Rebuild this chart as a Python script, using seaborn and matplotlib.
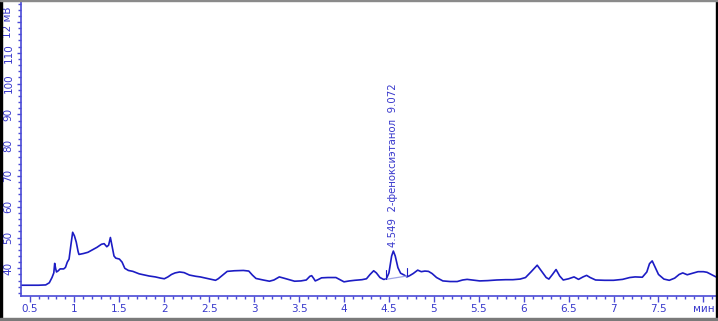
import matplotlib
matplotlib.use("Agg")
import matplotlib.pyplot as plt
import seaborn as sns
import numpy as np
import pandas as pd
from matplotlib.ticker import MultipleLocator, FixedLocator, FixedFormatter
from matplotlib.patches import Rectangle

# --- data (time in min, signal in mV) ---
time_min = [0.41, 0.50, 0.60, 0.68, 0.72, 0.75, 0.77, 0.78, 0.79, 0.80, 0.82, 0.84, 0.88, 0.90,
            0.92, 0.94, 0.96, 0.98, 1.00, 1.02, 1.04, 1.05, 1.10, 1.15, 1.20, 1.25, 1.30, 1.33,
            1.36, 1.38, 1.40, 1.42, 1.44, 1.46, 1.50, 1.53, 1.56, 1.60, 1.65, 1.72, 1.78, 1.83,
            1.90, 1.96, 2.00, 2.04, 2.08, 2.12, 2.17, 2.22, 2.28, 2.35, 2.40, 2.46, 2.52, 2.57,
            2.60, 2.65, 2.70, 2.78, 2.88, 2.94, 2.98, 3.02, 3.10, 3.17, 3.22, 3.28, 3.33, 3.40,
            3.45, 3.52, 3.58, 3.62, 3.64, 3.66, 3.68, 3.71, 3.75, 3.82, 3.91, 3.96, 4.00, 4.06,
            4.12, 4.20, 4.25, 4.29, 4.33, 4.36, 4.40, 4.44, 4.47, 4.50, 4.53, 4.549, 4.57, 4.60,
            4.63, 4.67, 4.70, 4.73, 4.77, 4.82, 4.86, 4.90, 4.94, 4.98, 5.03, 5.10, 5.18, 5.26,
            5.32, 5.37, 5.43, 5.51, 5.60, 5.70, 5.80, 5.88, 5.96, 6.02, 6.08, 6.15, 6.20, 6.25,
            6.28, 6.32, 6.36, 6.40, 6.44, 6.50, 6.56, 6.61, 6.66, 6.70, 6.74, 6.80, 6.90, 7.00,
            7.10, 7.18, 7.24, 7.32, 7.37, 7.40, 7.43, 7.46, 7.50, 7.56, 7.62, 7.68, 7.73, 7.77,
            7.82, 7.88, 7.94, 8.00, 8.04, 8.10, 8.14]
signal_mv = [34.5, 34.5, 34.5, 34.6, 35.3, 37.0, 38.5, 41.6, 40.0, 38.8, 39.2, 39.8, 39.8, 40.3,
             42.0, 43.0, 47.5, 51.7, 50.5, 48.5, 45.5, 44.5, 44.8, 45.2, 46.0, 46.8, 47.8, 48.0,
             47.0, 47.5, 50.0, 47.0, 44.0, 43.3, 43.0, 42.0, 40.0, 39.3, 39.0, 38.2, 37.8, 37.5,
             37.2, 36.8, 36.6, 37.2, 38.0, 38.5, 38.8, 38.6, 37.8, 37.4, 37.2, 36.8, 36.4, 36.1,
             36.6, 37.8, 39.0, 39.2, 39.3, 39.1, 37.8, 36.7, 36.2, 35.8, 36.2, 37.2, 36.8, 36.2,
             35.8, 35.9, 36.2, 37.4, 37.6, 36.8, 35.9, 36.3, 36.9, 37.0, 37.0, 36.2, 35.6, 35.9,
             36.1, 36.3, 36.6, 38.0, 39.2, 38.5, 37.0, 36.4, 36.5, 38.5, 44.0, 45.6, 44.0, 40.2,
             38.4, 37.8, 37.2, 37.6, 38.3, 39.4, 38.9, 39.1, 39.0, 38.3, 37.0, 35.9, 35.7, 35.7,
             36.2, 36.4, 36.2, 35.9, 36.0, 36.2, 36.3, 36.3, 36.5, 37.0, 38.8, 41.0, 39.0, 37.0,
             36.5, 38.0, 39.6, 37.5, 36.2, 36.6, 37.2, 36.4, 37.2, 37.7, 37.0, 36.2, 36.1, 36.1,
             36.4, 37.0, 37.2, 37.1, 38.8, 41.5, 42.4, 40.5, 38.0, 36.5, 36.1, 36.8, 38.0, 38.5,
             37.9, 38.4, 38.9, 38.9, 38.7, 37.8, 37.2]

# integration baseline and markers for the labelled peak
peak_base_t = [4.465, 4.70]
peak_base_v = [36.4, 37.5]
peak_marker_top = [39.6, 40.2]
peak_rt = 4.549
peak_height = 45.6
peak_label = "4.549  2-феноксиэтанол  9.072"

x_ticks = [0.5, 1, 1.5, 2, 2.5, 3, 3.5, 4, 4.5, 5, 5.5, 6, 6.5, 7, 7.5, 8]
x_tick_labels = ["0.5", "1", "1.5", "2", "2.5", "3", "3.5", "4", "4.5", "5", "5.5", "6",
                 "6.5", "7", "7.5", "мин"]
y_ticks = [40, 50, 60, 70, 80, 90, 100, 110, 120]
y_tick_labels = ["40", "50", "60", "70", "80", "90", "100", "110", "12 мВ"]

LINE = "#1c1cc4"
TXT = "#3838cc"
AX = "#4a4ad6"

sns.set_theme(style="white")
plt.rcParams['font.family'] = ['DejaVu Sans']

W, H = 718, 321
fig = plt.figure(figsize=(W / 100, H / 100), dpi=100)
ax = fig.add_axes([21 / W, (H - 296) / H, (716 - 21) / W, (296 - 2) / H])

df = pd.DataFrame({"t": time_min, "mv": signal_mv})
sns.lineplot(data=df, x="t", y="mv", ax=ax, color=LINE, linewidth=1.2, sort=False,
             estimator=None)

# integration baseline + markers
ax.plot(peak_base_t, peak_base_v, color="#9ea4e6", linewidth=0.9)
for t0, v0, v1 in zip(peak_base_t, peak_base_v, peak_marker_top):
    ax.plot([t0, t0], [v0, v1], color=LINE, linewidth=0.8)

ax.text(peak_rt, peak_height + 1.3, peak_label, rotation=90, ha="center", va="bottom",
        fontsize=7.3, color=TXT)

ax.set_xlim(0.405, 8.14)
ax.set_ylim(31.0, 126.5)
ax.set_xlabel("")
ax.set_ylabel("")

ax.xaxis.set_major_locator(FixedLocator(x_ticks))
ax.xaxis.set_major_formatter(FixedFormatter(x_tick_labels))
ax.xaxis.set_minor_locator(MultipleLocator(0.1))
ax.yaxis.set_major_locator(FixedLocator(y_ticks))
ax.yaxis.set_major_formatter(FixedFormatter(y_tick_labels))
ax.yaxis.set_minor_locator(MultipleLocator(2))

ax.tick_params(axis="x", which="major", direction="out", length=4, width=1, color=AX,
               labelcolor=TXT, labelsize=7.5, pad=2, bottom=True)
ax.tick_params(axis="x", which="minor", direction="out", length=2.5, width=1, color=AX,
               bottom=True)
ax.tick_params(axis="y", which="major", direction="out", length=3, width=1, color=AX,
               labelcolor=TXT, labelsize=7.5, pad=2.5, left=True)
ax.tick_params(axis="y", which="minor", direction="out", length=2.5, width=1, color=AX,
               left=True)
for lab in ax.get_yticklabels():
    lab.set_rotation(90)
    lab.set_va("center")

for side in ["top", "right"]:
    ax.spines[side].set_visible(False)
for side in ["left", "bottom"]:
    ax.spines[side].set_color(AX)
    ax.spines[side].set_linewidth(1.2)

# frame of the window
fig.patches.append(Rectangle((0, 0), 2 / W, 1, transform=fig.transFigure, color="black"))
fig.patches.append(Rectangle((1 - 2 / W, 0), 2 / W, 1, transform=fig.transFigure, color="black"))
fig.patches.append(Rectangle((0, 0), 1, 3 / H, transform=fig.transFigure, color="#7a7a7a"))
fig.patches.append(Rectangle((0, 1 - 1 / H), 1, 1 / H, transform=fig.transFigure, color="#8a8a8a"))

fig.savefig("out.png", dpi=100)
